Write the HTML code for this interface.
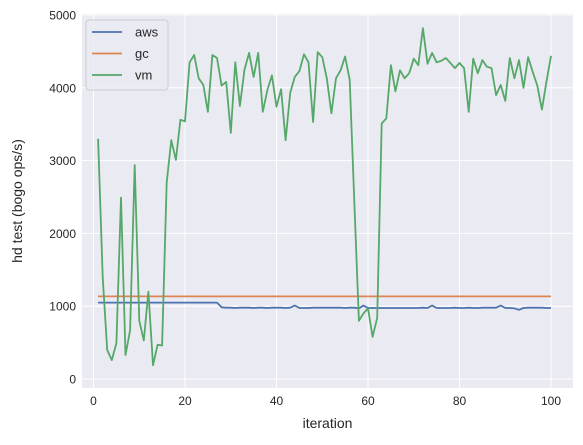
<!DOCTYPE html>
<html><head><meta charset="utf-8"><style>
body{margin:0;background:#fff;font-family:"Liberation Sans","DejaVu Sans",sans-serif;}
svg text{font-family:"Liberation Sans","DejaVu Sans",sans-serif;fill:#262626;}
</style></head><body>
<svg id="chart" width="583" height="440" viewBox="0 0 583 440" xmlns="http://www.w3.org/2000/svg"></svg>
<script>
const iterations = Array.from({length:100},(_,i)=>i+1);
const awsValues = [1050,1050,1050,1050,1050,1050,1050,1050,1050,1050,1050,1050,1050,1050,1050,1050,1050,1050,1050,1050,1050,1050,1050,1050,1050,1050,1050,985,980,980,975,980,980,980,975,980,980,975,980,980,980,975,980,1010,975,975,975,980,980,980,980,980,980,980,975,980,980,970,1010,975,975,975,975,975,975,975,975,975,975,975,975,980,975,1010,975,975,975,975,980,975,975,980,975,975,980,980,980,980,1010,975,975,970,950,975,980,980,980,980,975,975];
const gcValues = Array.from({length:100},()=>1135);
const vmValues = [3300,1400,400,260,490,2490,330,670,2940,800,530,1200,190,470,460,2700,3280,3010,3560,3540,4350,4450,4130,4040,3670,4450,4410,4030,4080,3380,4350,3750,4250,4480,4150,4480,3670,3970,4170,3740,3980,3280,3930,4150,4230,4460,4350,3530,4490,4420,4130,3650,4130,4240,4430,4110,2440,800,900,970,580,840,3510,3580,4310,3950,4240,4130,4200,4400,4310,4820,4330,4480,4350,4370,4410,4340,4270,4340,4270,3670,4400,4200,4380,4290,4270,3900,4040,3820,4410,4130,4380,4000,4420,4220,4030,3700,4080,4440];
const xTicks = [0,20,40,60,80,100];
const yTicks = [0,1000,2000,3000,4000,5000];
const series = [["aws","#4c72b0",awsValues],["gc","#dd8452",gcValues],["vm","#55a868",vmValues]];

const L=82,R=573,T=14,B=388;
const xs=v=>93.5+v*4.575;
const ys=v=>379-v*0.0728;
const svg=document.getElementById('chart');
const NS='http://www.w3.org/2000/svg';
function mk(tag,attrs,parent){const e=document.createElementNS(NS,tag);for(const k in attrs)e.setAttribute(k,attrs[k]);(parent||svg).appendChild(e);return e;}

const bg=mk('rect',{x:L,y:T,width:R-L,height:B-T,fill:'#eaeaf2'});


xTicks.forEach(t=>{
  const g=mk('line',{x1:xs(t),x2:xs(t),y1:T,y2:B,stroke:'#fff','stroke-width':1});
  
  
  const tx=mk('text',{x:xs(t),y:B+17,'text-anchor':'middle','font-size':12});
  tx.textContent=t;
  
  
});
yTicks.forEach(t=>{
  const g=mk('line',{x1:L,x2:R,y1:ys(t),y2:ys(t),stroke:'#fff','stroke-width':1});
  
  
  const tx=mk('text',{x:L-6,y:ys(t)+4.5,'text-anchor':'end','font-size':12});
  tx.textContent=t;
  
  
});
series.forEach(([name,color,vals])=>{
  const p=mk('polyline',{points:vals.map((v,i)=>xs(iterations[i]).toFixed(1)+','+ys(v).toFixed(1)).join(' '),fill:'none',stroke:color,'stroke-width':1.8,'stroke-linejoin':'round'});
  
  
});
const xl=mk('text',{x:(L+R)/2,y:428,'text-anchor':'middle','font-size':14});
xl.textContent='iteration';


const yl=mk('text',{x:0,y:0,'text-anchor':'middle','font-size':14,transform:'translate(22,'+((T+B)/2)+') rotate(-90)'});
yl.textContent='hd test (bogo ops/s)';


const lg=mk('g',{});


mk('rect',{x:86,y:20,width:82,height:70,rx:3,fill:'#eaeaf2','fill-opacity':0.8,stroke:'#cccccc'},lg);
series.forEach(([name,color],i)=>{
  const y=32+i*21.5;
  const ln=mk('line',{x1:92,x2:122,y1:y,y2:y,stroke:color,'stroke-width':1.8},lg);
  
  
  const t=mk('text',{x:135,y:y+4.5,'font-size':13},lg);
  t.textContent=name;
  
  
});
</script>
</body></html>
